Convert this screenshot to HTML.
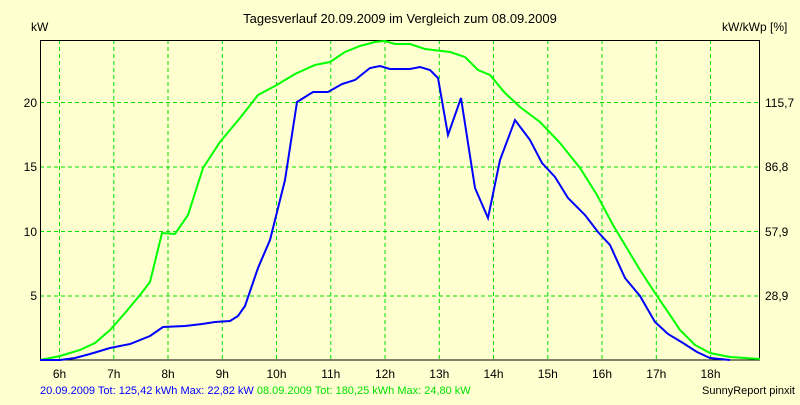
<!DOCTYPE html><html><head><style>body{margin:0;background:#ffffd0}</style></head><body>
<svg width="800" height="400" xmlns="http://www.w3.org/2000/svg" font-family="Liberation Sans, sans-serif" font-size="12">
<rect width="800" height="400" fill="#ffffd0"/>
<text x="400" y="23" text-anchor="middle" font-size="13">Tagesverlauf 20.09.2009 im Vergleich zum 08.09.2009</text>
<text x="31" y="31">kW</text>
<text x="722" y="31">kW/kWp [%]</text>
<g stroke="#00e000" stroke-dasharray="4,3" stroke-width="1">
<line x1="59.5" y1="40" x2="59.5" y2="360"/><line x1="113.8" y1="40" x2="113.8" y2="360"/><line x1="168" y1="40" x2="168" y2="360"/><line x1="222.3" y1="40" x2="222.3" y2="360"/><line x1="276.5" y1="40" x2="276.5" y2="360"/><line x1="330.8" y1="40" x2="330.8" y2="360"/><line x1="385" y1="40" x2="385" y2="360"/><line x1="439.3" y1="40" x2="439.3" y2="360"/><line x1="493.5" y1="40" x2="493.5" y2="360"/><line x1="547.8" y1="40" x2="547.8" y2="360"/><line x1="602" y1="40" x2="602" y2="360"/><line x1="656.3" y1="40" x2="656.3" y2="360"/><line x1="710.5" y1="40" x2="710.5" y2="360"/>
<line x1="40" y1="102.5" x2="760" y2="102.5"/><line x1="40" y1="167" x2="760" y2="167"/><line x1="40" y1="231.5" x2="760" y2="231.5"/><line x1="40" y1="296" x2="760" y2="296"/>
</g>
<rect x="40.5" y="40.5" width="719" height="319.5" fill="none" stroke="#000"/>
<g text-anchor="end"><text x="37" y="107">20</text><text x="37" y="171">15</text><text x="37" y="236">10</text><text x="37" y="300">5</text></g>
<g><text x="765" y="107">115,7</text><text x="765" y="171">86,8</text><text x="765" y="236">57,9</text><text x="765" y="300">28,9</text></g>
<g text-anchor="middle"><text x="59.5" y="378">6h</text><text x="113.8" y="378">7h</text><text x="168" y="378">8h</text><text x="222.3" y="378">9h</text><text x="276.5" y="378">10h</text><text x="330.8" y="378">11h</text><text x="385" y="378">12h</text><text x="439.3" y="378">13h</text><text x="493.5" y="378">14h</text><text x="547.8" y="378">15h</text><text x="602" y="378">16h</text><text x="656.3" y="378">17h</text><text x="710.5" y="378">18h</text></g>
<polyline fill="none" stroke="#00ff00" stroke-width="2" points="40,360 60,356 80,350 95,343 110,330 125,313 140,295 150,282 162,233 175,234 188,215 203,168 220,142 240,118 258,95 275,86 295,74 315,65 330,62 345,52 360,46 375,42 385,41 395,44 410,44 425,49 450,52 465,57 478,70 490,75 505,93 520,107 540,122 560,143 580,168 597,195 613,225 625,245 640,270 655,293 670,315 680,330 695,345 710,353 730,357 760,359"/>
<polyline fill="none" stroke="#0000ff" stroke-width="2" points="40,360 60,360 75,358 90,354 110,348 130,344 150,336 163,327 185,326 202,324 215,322 230,321 238,316 245,306 258,268 270,240 285,180 297,102 313,92 328,92 342,84 355,80 370,68 380,66 390,69 410,69 420,67 430,70 438,78 448,135 461,98 475,188 488,218 500,160 515,120 530,140 542,163 555,177 568,198 585,215 598,232 610,245 625,278 640,296 655,322 668,334 683,343 697,352 710,358 730,360"/>
<text x="40" y="394" fill="#0000ff" font-size="11">20.09.2009 Tot: 125,42 kWh Max: 22,82 kW <tspan fill="#00e000">08.09.2009 Tot: 180,25 kWh Max: 24,80 kW</tspan></text>
<text x="795" y="394" text-anchor="end" font-size="11">SunnyReport pinxit</text>
</svg></body></html>
